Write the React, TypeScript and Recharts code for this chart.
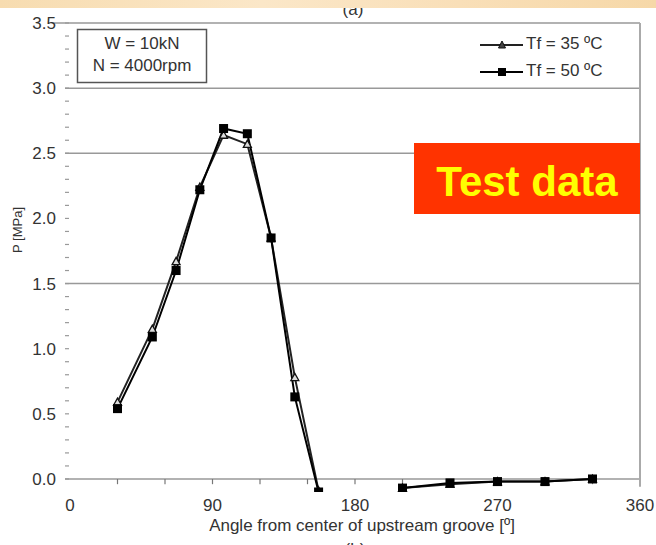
import React from 'react';
import { LineChart, Line, XAxis, YAxis, ReferenceLine } from 'recharts';

// Angle from center of upstream groove [deg]; null marks the gap in the measurements
const angles = [30, 52, 67, 82, 97, 112, 127, 142, 157, 185, 210, 240, 270, 300, 330];
const p35 = [0.59, 1.15, 1.67, 2.24, 2.64, 2.57, 1.85, 0.78, -0.09, null, -0.07, -0.04, -0.02, -0.02, 0.0];
const p50 = [0.54, 1.09, 1.6, 2.22, 2.69, 2.65, 1.85, 0.63, -0.1, null, -0.07, -0.03, -0.02, -0.02, 0.0];

const xTicks = [0, 90, 180, 270, 360];
const xMinorTicks = [30, 60, 90, 120, 150, 180, 210, 240, 270, 300, 330];
const yTicks = [
  0, 0.1, 0.2, 0.3, 0.4, 0.5, 0.6, 0.7, 0.8, 0.9, 1.0, 1.1, 1.2, 1.3, 1.4, 1.5, 1.6, 1.7,
  1.8, 1.9, 2.0, 2.1, 2.2, 2.3, 2.4, 2.5, 2.6, 2.7, 2.8, 2.9, 3.0, 3.1, 3.2, 3.3, 3.4, 3.5,
];
const gridValues = [1.5, 2.5, 3.0];

const data = angles.map((a, i) => ({ angle: a, p35: p35[i], p50: p50[i] }));

const FONT = '"Liberation Sans", Arial, sans-serif';

const YTick = (props: any) => {
  const { x, y, payload } = props;
  const v = payload.value as number;
  const major = Math.abs(v * 2 - Math.round(v * 2)) < 1e-6;
  return (
    <g>
      <line x1={x} x2={x + 4} y1={y} y2={y} stroke="#999" strokeWidth={1.2} />
      {major && (
        <text x={x - 9} y={y} dy="0.35em" textAnchor="end" fontSize={17} fill="#333" fontFamily={FONT}>
          {v.toFixed(1)}
        </text>
      )}
    </g>
  );
};

const TriDot = (props: any) => {
  const { cx, cy, value } = props;
  if (value == null || cx == null || cy == null) return null;
  const s = 4;
  return (
    <path
      d={`M${cx},${cy - s} L${cx + s},${cy + s * 0.8} L${cx - s},${cy + s * 0.8} Z`}
      fill="#ddd"
      stroke="#111"
      strokeWidth={1.3}
    />
  );
};

const SqDot = (props: any) => {
  const { cx, cy, value } = props;
  if (value == null || cx == null || cy == null) return null;
  const s = 4.5;
  return <rect x={cx - s} y={cy - s} width={2 * s} height={2 * s} fill="#000" />;
};

export default function App() {
  return (
    <div style={{ position: 'absolute', left: 0, top: 0, width: 656, height: 545, background: '#fff', fontFamily: FONT, overflow: 'hidden' }}>
      <LineChart width={656} height={545} data={data} margin={{ top: 23, right: 16, left: 0, bottom: 0 }}>
        <XAxis
          type="number"
          dataKey="angle"
          domain={[0, 360]}
          ticks={xTicks}
          padding={{ left: 5, right: 0 }}
          axisLine={false}
          tickLine={false}
          tickSize={0}
          tickMargin={7}
          height={53}
          tick={{ fontSize: 17, fill: '#333', fontFamily: FONT }}
        />
        <YAxis
          type="number"
          domain={[-0.1, 3.5]}
          ticks={yTicks}
          interval={0}
          width={65}
          axisLine={false}
          tickLine={false}
          tickSize={0}
          tickMargin={0}
          tick={<YTick />}
          allowDataOverflow
        />
        {gridValues.map((g) => (
          <ReferenceLine key={g} y={g} stroke="#999" strokeWidth={1.5} />
        ))}
        <ReferenceLine
          segment={[{ x: -11, y: 3.5 }, { x: 360, y: 3.5 }]}
          stroke="#999"
          strokeWidth={1.5}
          ifOverflow="visible"
        />
        <ReferenceLine y={0} stroke="#999" strokeWidth={1.5} />
        <ReferenceLine
          segment={[{ x: 360, y: -0.06 }, { x: 360, y: 3.5 }]}
          stroke="#aaa"
          strokeWidth={2}
          ifOverflow="visible"
        />
        {xMinorTicks.map((t) => (
          <ReferenceLine
            key={t}
            segment={[{ x: t, y: 0 }, { x: t, y: -0.04 }]}
            stroke="#777"
            strokeWidth={1.2}
            ifOverflow="visible"
          />
        ))}
        <Line
          type="linear"
          dataKey="p35"
          stroke="#222"
          strokeWidth={2}
          dot={<TriDot />}
          isAnimationActive={false}
          connectNulls={false}
        />
        <Line
          type="linear"
          dataKey="p50"
          stroke="#000"
          strokeWidth={2}
          dot={<SqDot />}
          isAnimationActive={false}
          connectNulls={false}
        />
      </LineChart>

      <svg width={656} height={545} style={{ position: 'absolute', left: 0, top: 0, pointerEvents: 'none' }} fontFamily={FONT}>
        {/* top caption remnant */}
        <text x={353} y={15} textAnchor="middle" fontSize={17} fill="#333">(a)</text>
        {/* bottom caption remnant */}
        <text x={355} y={555} textAnchor="middle" fontSize={17} fill="#333">(b)</text>

        {/* y axis title */}
        <text x={19} y={230} transform="rotate(-90 19 230)" textAnchor="middle" dominantBaseline="middle" fontSize={13} fill="#333">
          P [MPa]
        </text>
        {/* x axis title */}
        <text x={362} y={527} textAnchor="middle" dominantBaseline="middle" fontSize={17} fill="#333">
          Angle from center of upstream groove [º]
        </text>

        {/* condition box */}
        <rect x={77.5} y={29.5} width={129} height={53} fill="#fff" stroke="#555" strokeWidth={1.5} />
        <text x={142} y={45} textAnchor="middle" dominantBaseline="middle" fontSize={17} fill="#333">W = 10kN</text>
        <text x={142} y={67} textAnchor="middle" dominantBaseline="middle" fontSize={17} fill="#333">N = 4000rpm</text>

        {/* series legend */}
        <line x1={480} x2={523} y1={45} y2={45} stroke="#222" strokeWidth={2} />
        <path d="M502,41 L505.5,48 L498.5,48 Z" fill="#444" stroke="#111" strokeWidth={1} />
        <text x={526} y={45} dominantBaseline="middle" fontSize={17} fill="#333">Tf = 35 ºC</text>
        <line x1={480} x2={523} y1={72} y2={72} stroke="#000" strokeWidth={2} />
        <rect x={498} y={68} width={8} height={8} fill="#000" />
        <text x={526} y={72} dominantBaseline="middle" fontSize={17} fill="#333">Tf = 50 ºC</text>

        {/* Test data banner */}
        <rect x={414} y={143} width={226} height={71} fill="#FF3300" />
        <text x={527} y={196} textAnchor="middle" fontSize={42} fontWeight="bold" fill="#FFFF00">Test data</text>
      </svg>

      <div
        style={{
          position: 'absolute',
          left: 0,
          top: 0,
          width: 656,
          height: 8,
          background: 'linear-gradient(to right, #f7dcb0, #fbe7c8 40%, #f9dfb8 70%, #f6d8a8)',
        }}
      />
    </div>
  );
}
